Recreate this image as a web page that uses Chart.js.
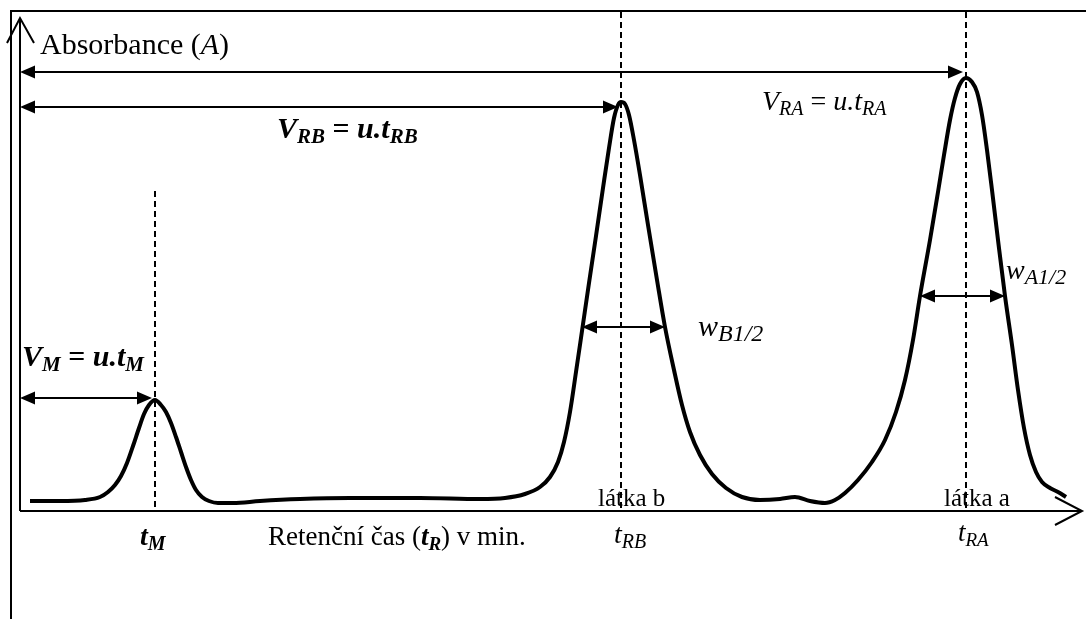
<!DOCTYPE html>
<html>
<head>
<meta charset="utf-8">
<script src="https://cdn.jsdelivr.net/npm/chart.js@4/dist/chart.umd.min.js"></script>
<style>
  html, body { margin: 0; padding: 0; background: #fff; overflow: hidden; }
  #wrap { position: relative; width: 1086px; height: 619px; }
</style>
</head>
<body>
<div id="wrap"><canvas id="c" width="1086" height="619"></canvas></div>
<script>
// Chromatogram trace: retention time (min) and absorbance
const retentionTime = [
  0.10, 0.40, 0.65, 0.80, 0.88, 0.95, 1.01, 1.07, 1.13, 1.19,
  1.24, 1.29, 1.35, 1.41, 1.46, 1.51, 1.56, 1.61, 1.66, 1.71,
  1.76, 1.82, 1.89, 1.98, 2.13, 2.40, 2.80, 3.30, 4.00, 4.60,
  4.85, 5.05, 5.20, 5.30, 5.38, 5.44, 5.50, 5.56, 5.62, 5.69,
  5.76, 5.83, 5.89, 5.94, 5.98, 6.01, 6.05, 6.09, 6.14, 6.20,
  6.28, 6.37, 6.45, 6.54, 6.62, 6.70, 6.80, 6.92, 7.06, 7.22,
  7.40, 7.60, 7.75, 7.90, 8.05, 8.15, 8.25, 8.38, 8.52, 8.65,
  8.76, 8.85, 8.93, 9.00, 9.10, 9.18, 9.24, 9.30, 9.35, 9.40,
  9.46, 9.52, 9.57, 9.62, 9.67, 9.72, 9.78, 9.85, 9.92, 9.98,
  10.04, 10.10, 10.16, 10.22, 10.30, 10.38, 10.46
];
const absorbance = [
  0.020, 0.020, 0.022, 0.028, 0.038, 0.052, 0.070, 0.096, 0.130, 0.166,
  0.194, 0.212, 0.222, 0.212, 0.198, 0.176, 0.148, 0.118, 0.088, 0.062,
  0.042, 0.028, 0.020, 0.016, 0.016, 0.020, 0.024, 0.026, 0.026, 0.024,
  0.026, 0.034, 0.048, 0.068, 0.098, 0.138, 0.198, 0.278, 0.360, 0.456,
  0.550, 0.646, 0.726, 0.786, 0.812, 0.818, 0.814, 0.792, 0.742, 0.672,
  0.572, 0.462, 0.368, 0.282, 0.212, 0.158, 0.112, 0.074, 0.046, 0.028,
  0.022, 0.024, 0.028, 0.020, 0.016, 0.022, 0.036, 0.062, 0.098, 0.142,
  0.198, 0.262, 0.342, 0.430, 0.542, 0.638, 0.712, 0.782, 0.826, 0.854,
  0.866, 0.858, 0.838, 0.792, 0.722, 0.642, 0.542, 0.430, 0.332, 0.242,
  0.166, 0.112, 0.078, 0.058, 0.046, 0.038, 0.028
];

// Peaks: dead time t_M, substance b (t_RB), substance a (t_RA)
const peakTimes = [1.35, 6.01, 9.46];
const peakHeights = [0.222, 0.818, 0.866];
// Retention-volume arrows (V_M, V_RB, V_RA) drawn at these absorbance levels
const volumeArrowLevels = [0.226, 0.808, 0.878];
// Peak width arrows w_B1/2 and w_A1/2: level and edges
const widthLevels = [0.368, 0.430];
const widthStart = [5.62, 9.00];
const widthEnd = [6.45, 9.85];
// Top of the dashed marker line for each peak
const markerTops = [0.642, 1.0, 1.0];

const SERIF = '"Liberation Serif", "Times New Roman", serif';

function font(style, size) { return style + ' ' + size + 'px ' + SERIF; }

// Draw a run of text pieces: [text, style, size, dy]
function drawRuns(ctx, x, y, parts) {
  let cx = x;
  ctx.textBaseline = 'alphabetic';
  ctx.textAlign = 'left';
  parts.forEach(p => {
    ctx.font = font(p[1], p[2]);
    ctx.fillText(p[0], cx, y + (p[3] || 0));
    cx += ctx.measureText(p[0]).width;
  });
}

function arrowHead(ctx, tipX, y, dir) {
  const len = 15, half = 6.5;
  ctx.beginPath();
  ctx.moveTo(tipX, y);
  ctx.lineTo(tipX - dir * len, y - half);
  ctx.lineTo(tipX - dir * len, y + half);
  ctx.closePath();
  ctx.fill();
}

function doubleArrow(ctx, x1, x2, y) {
  ctx.beginPath();
  ctx.moveTo(x1 + 6, y);
  ctx.lineTo(x2 - 6, y);
  ctx.stroke();
  arrowHead(ctx, x1, y, -1);
  arrowHead(ctx, x2, y, 1);
}

const decorations = {
  id: 'decorations',
  beforeDatasetsDraw(chart) {
    const ctx = chart.ctx;
    const xs = chart.scales.x, ys = chart.scales.y;
    const a = chart.chartArea;
    ctx.save();
    ctx.strokeStyle = '#000';
    ctx.fillStyle = '#000';
    ctx.lineWidth = 2;

    // figure frame
    ctx.beginPath();
    ctx.moveTo(11, 619);
    ctx.lineTo(11, 11);
    ctx.lineTo(1086, 11);
    ctx.stroke();

    // axes with open arrowheads
    const x0 = xs.getPixelForValue(0), y0 = ys.getPixelForValue(0);
    ctx.beginPath();
    ctx.moveTo(x0, y0);
    ctx.lineTo(x0, 18);
    ctx.moveTo(x0 - 13, 43);
    ctx.lineTo(x0, 18);
    ctx.lineTo(x0 + 14, 43);
    ctx.moveTo(x0, y0);
    ctx.lineTo(a.right + 2, y0);
    ctx.moveTo(a.right - 25, y0 - 14);
    ctx.lineTo(a.right + 2, y0);
    ctx.lineTo(a.right - 25, y0 + 14);
    ctx.stroke();

    // dashed peak markers
    ctx.setLineDash([6, 4]);
    peakTimes.forEach((t, i) => {
      const px = xs.getPixelForValue(t);
      ctx.beginPath();
      ctx.moveTo(px, ys.getPixelForValue(markerTops[i]) + 1);
      ctx.lineTo(px, y0);
      ctx.stroke();
    });
    ctx.setLineDash([]);
    ctx.restore();
  },
  afterDatasetsDraw(chart) {
    const ctx = chart.ctx;
    const xs = chart.scales.x, ys = chart.scales.y;
    const x0 = xs.getPixelForValue(0);
    ctx.save();
    ctx.strokeStyle = '#000';
    ctx.fillStyle = '#000';
    ctx.lineWidth = 2;

    // retention volume arrows from the start to each peak
    peakTimes.forEach((t, i) => {
      doubleArrow(ctx, x0, xs.getPixelForValue(t) - 3, ys.getPixelForValue(volumeArrowLevels[i]));
    });
    // peak width arrows
    widthLevels.forEach((lv, i) => {
      doubleArrow(ctx, xs.getPixelForValue(widthStart[i]), xs.getPixelForValue(widthEnd[i]), ys.getPixelForValue(lv));
    });

    // texts
    drawRuns(ctx, 40, 54, [['Absorbance (', 'normal', 30], ['A', 'italic', 30], [')', 'normal', 30]]);
    drawRuns(ctx, 277, 138, [['V', 'italic bold', 30], ['RB', 'italic bold', 21, 5], [' = ', 'bold', 30], ['u.t', 'italic bold', 30], ['RB', 'italic bold', 21, 5]]);
    drawRuns(ctx, 762, 110, [['V', 'italic', 28], ['RA', 'italic', 20, 5], [' = ', 'normal', 28], ['u.t', 'italic', 28], ['RA', 'italic', 20, 5]]);
    drawRuns(ctx, 22, 366, [['V', 'italic bold', 30], ['M', 'italic bold', 21, 5], [' = ', 'bold', 30], ['u.t', 'italic bold', 30], ['M', 'italic bold', 21, 5]]);
    drawRuns(ctx, 698, 336, [['w', 'italic', 30], ['B1/2', 'italic', 24, 5]]);
    drawRuns(ctx, 1006, 279, [['w', 'italic', 28], ['A1/2', 'italic', 22, 5]]);

    const tM = xs.getPixelForValue(peakTimes[0]);
    const tB = xs.getPixelForValue(peakTimes[1]);
    const tA = xs.getPixelForValue(peakTimes[2]);
    drawRuns(ctx, tM - 15, 545, [['t', 'italic bold', 28], ['M', 'italic bold', 20, 5]]);
    drawRuns(ctx, 268, 545, [['Retenční čas (', 'normal', 27], ['t', 'italic bold', 27], ['R', 'italic bold', 19, 5], [') v min.', 'normal', 27]]);
    drawRuns(ctx, tB - 7, 543, [['t', 'italic', 28], ['RB', 'italic', 20, 5]]);
    drawRuns(ctx, tA - 8, 541, [['t', 'italic', 27], ['RA', 'italic', 19, 5]]);
    drawRuns(ctx, tB - 23, 506, [['látka b', 'normal', 25]]);
    drawRuns(ctx, tA - 22, 506, [['látka a', 'normal', 25]]);
    ctx.restore();
  }
};

new Chart(document.getElementById('c'), {
  type: 'line',
  data: {
    datasets: [{
      data: retentionTime.map((t, i) => ({ x: t, y: absorbance[i] })),
      borderColor: '#000',
      borderWidth: 4,
      pointRadius: 0,
      fill: false,
      cubicInterpolationMode: 'monotone'
    }]
  },
  options: {
    responsive: false,
    animation: false,
    layout: { padding: { left: 20, top: 11, right: 6, bottom: 108 } },
    scales: {
      x: { type: 'linear', min: 0, max: 10.6, display: false },
      y: { type: 'linear', min: 0, max: 1, display: false }
    },
    plugins: { legend: { display: false }, tooltip: { enabled: false } }
  },
  plugins: [decorations]
});
</script>
</body>
</html>
